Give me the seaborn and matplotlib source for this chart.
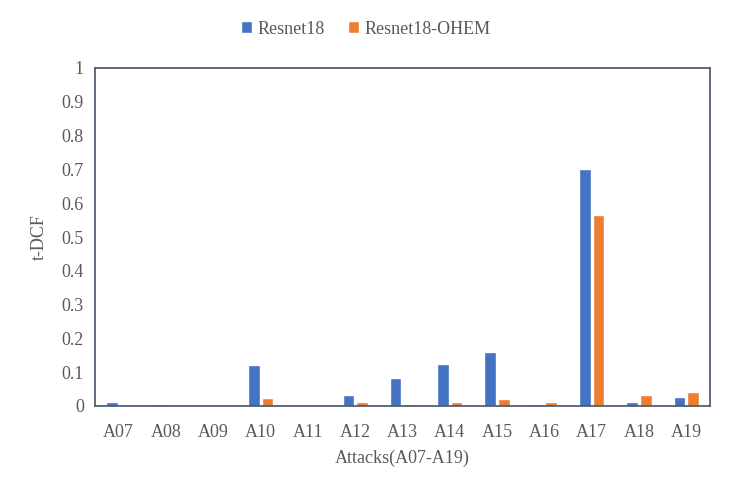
import matplotlib.pyplot as plt
import seaborn as sns
import pandas as pd

attacks = ["A07", "A08", "A09", "A10", "A11", "A12", "A13", "A14", "A15", "A16", "A17", "A18", "A19"]
resnet18 = [0.012, 0.006, 0.001, 0.121, 0.003, 0.033, 0.083, 0.124, 0.160, 0.006, 0.701, 0.012, 0.027]
resnet18_ohem = [0.004, 0.001, 0.0, 0.024, 0.001, 0.012, 0.006, 0.012, 0.021, 0.012, 0.565, 0.033, 0.041]

df = pd.DataFrame({
    "attack": attacks * 2,
    "tdcf": resnet18 + resnet18_ohem,
    "model": ["Resnet18"] * len(attacks) + ["Resnet18-OHEM"] * len(attacks),
})

sns.set_style("white")
plt.rcParams["font.family"] = ["Liberation Serif", "DejaVu Serif"]

fig = plt.figure(figsize=(7.32, 4.92), dpi=100)
ax = fig.add_axes([95 / 732, 1 - 406 / 492, 615 / 732, 338 / 492])

sns.barplot(data=df, x="attack", y="tdcf", hue="model", saturation=1,
            palette=["#4472C4", "#ED7D31"], width=0.58, gap=0.15, ax=ax)

ax.set_ylim(0, 1)
ax.set_yticks([i / 10 for i in range(11)])
ax.set_yticklabels(["0"] + [f"{i/10:g}" for i in range(1, 10)] + ["1"])
ax.tick_params(axis="both", length=0, labelsize=13, colors="#595959", pad=8)
ax.tick_params(axis="x", pad=13)
ax.set_xlabel("Attacks(A07-A19)", fontsize=13, color="#595959", labelpad=6)
ax.set_ylabel("t-DCF", fontsize=13, color="#595959", labelpad=10)
for s in ax.spines.values():
    s.set_color("#44546A")
    s.set_linewidth(1.2)

handles, labels = ax.get_legend_handles_labels()
ax.legend_.remove()
fig.legend(handles, labels, loc="center", bbox_to_anchor=(0.5, 1 - 29 / 492), ncol=2,
           frameon=False, fontsize=13, handlelength=0.6, handleheight=0.6,
           handletextpad=0.3, columnspacing=1.3, labelcolor="#595959")

fig.savefig("out.png", dpi=100)
